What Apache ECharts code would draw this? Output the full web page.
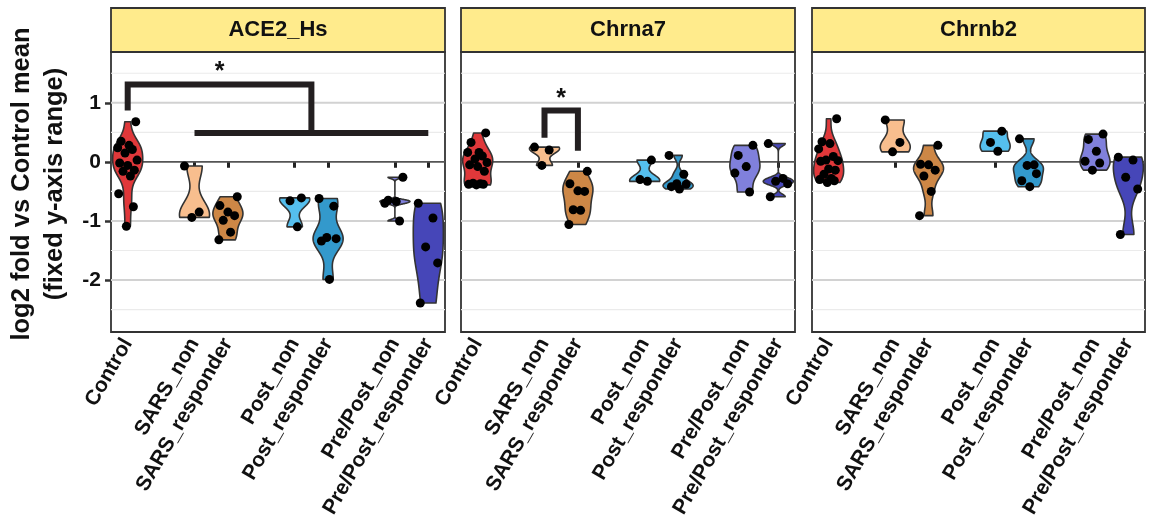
<!DOCTYPE html>
<html>
<head>
<meta charset="utf-8">
<script src="https://cdn.jsdelivr.net/npm/echarts@6/dist/echarts.min.js"></script>
<style>
  html, body { margin: 0; padding: 0; background: #fff; }
  #chart { width: 1150px; height: 522px; }
</style>
</head>
<body>
<div id="chart"></div>
<script>
// categories on the x axis (blank slots separate the groups)
const xCategories = ['Control', ' ', 'SARS_non', 'SARS_responder', '  ', 'Post_non', 'Post_responder', '   ', 'Pre/Post_non', 'Pre/Post_responder'];
const groupNames = ['Control', 'SARS_non', 'SARS_responder', 'Post_non', 'Post_responder', 'Pre/Post_non', 'Pre/Post_responder'];
const groupColors = ['#E0383A', '#F8BE8E', '#CD8746', '#55BFEE', '#3399CC', '#8080DC', '#4646B8'];
const genes = ['ACE2_Hs', 'Chrna7', 'Chrnb2'];
const yTicks = [-2, -1, 0, 1];

// log2 fold values, one list per group
const ace2Values = [
  [0.68, 0.35, 0.28, 0.24, 0.21, 0.15, 0.03, -0.02, -0.06, -0.14, -0.16, -0.24, -0.54, -0.76, -1.09],
  [-0.07, -0.85, -0.94],
  [-0.59, -0.74, -0.85, -0.91, -0.99, -1.19, -1.32],
  [-0.61, -0.66, -1.10],
  [-0.62, -0.75, -1.28, -1.30, -1.34, -1.99],
  [-0.26, -0.65, -0.67, -0.70, -1.00],
  [-0.70, -0.95, -1.44, -1.71, -2.39]
];
const chrna7Values = [
  [0.49, 0.33, 0.16, 0.16, 0.10, 0.05, -0.01, -0.05, -0.08, -0.16, -0.36, -0.37, -0.38, -0.38, -0.39],
  [0.25, 0.20, -0.06],
  [-0.16, -0.37, -0.49, -0.50, -0.81, -0.82, -1.06],
  [0.03, -0.30, -0.33],
  [0.11, -0.21, -0.37, -0.38, -0.42, -0.46],
  [0.28, 0.11, -0.08, -0.19, -0.51],
  [0.31, -0.28, -0.33, -0.37, -0.59]
];
const chrnb2Values = [
  [0.73, 0.34, 0.31, 0.22, 0.09, 0.03, 0.02, 0.01, -0.12, -0.14, -0.21, -0.28, -0.30, -0.32, -0.35],
  [0.71, 0.33, 0.17],
  [0.28, -0.04, -0.05, -0.14, -0.24, -0.50, -0.91],
  [0.52, 0.33, 0.18],
  [0.39, -0.05, -0.06, -0.20, -0.32, -0.42],
  [0.47, 0.38, 0.18, 0.01, -0.02, -0.14],
  [0.08, 0.03, -0.26, -0.46, -1.23]
];
const geneValues = [ace2Values, chrna7Values, chrnb2Values];

// significance brackets (y in data units)
const sigBrackets = [
  { gene: 0, left: 'Control', right: ['SARS_non', 'Pre/Post_responder'], top: 1.31, leftEnd: 0.87, rightEnd: 0.49, starY: 1.52 },
  { gene: 1, left: 'SARS_non', right: ['SARS_responder'], top: 0.87, leftEnd: 0.41, rightEnd: 0.19, starY: 1.06 }
];

const minorGrid = [-2.5, -1.5, -0.5, 0.5, 1.5];
const majorGrid = [-2, -1, 1];

// ---- layout / style ----
const panelLeft = [111, 461, 812];
const panelWidth = [334, 334, 333];
const panelTop = 52, panelHeight = 280;
const yMin = -2.88, yMax = 1.86;
const jitterPattern = [0.24, -0.2, 0.04, -0.3, 0.14, -0.08, 0.28, -0.24, 0.0, 0.2, -0.14, 0.08, -0.27, 0.17, -0.04];

function quantile7(sorted, p) {
  const h = (sorted.length - 1) * p;
  const lo = Math.floor(h);
  const hi = Math.ceil(h);
  return sorted[lo] + (h - lo) * (sorted[hi] - sorted[lo]);
}
function bwNrd0(x) {
  const n = x.length;
  const mean = x.reduce((a, b) => a + b, 0) / n;
  const sd = Math.sqrt(x.reduce((a, b) => a + (b - mean) * (b - mean), 0) / (n - 1));
  const s = x.slice().sort((a, b) => a - b);
  const iqr = quantile7(s, 0.75) - quantile7(s, 0.25);
  let lo = Math.min(sd, iqr / 1.34);
  if (!lo) lo = sd || Math.abs(s[0]) || 1;
  return 0.9 * lo * Math.pow(n, -0.2);
}
function violinProfile(x) {
  const bw = bwNrd0(x);
  const lo = Math.min.apply(null, x), hi = Math.max.apply(null, x);
  const out = [];
  const N = 256;
  for (let i = 0; i < N; i++) {
    const t = lo + (hi - lo) * i / (N - 1);
    let d = 0;
    x.forEach(v => { const z = (t - v) / bw; d += Math.exp(-0.5 * z * z); });
    out.push([t, d]);
  }
  const maxD = Math.max.apply(null, out.map(o => o[1]));
  return out.map(o => [o[0], o[1] / maxD]);
}

const catIndex = name => xCategories.indexOf(name);
const FONT = 'Liberation Sans, Arial, sans-serif';

const grids = [], xAxes = [], yAxes = [], series = [], graphics = [];

genes.forEach((gene, g) => {
  grids.push({
    left: panelLeft[g], top: panelTop, width: panelWidth[g], height: panelHeight,
    show: true, borderColor: '#333', borderWidth: 1.8, backgroundColor: '#fff'
  });
  xAxes.push({
    type: 'category', gridIndex: g, data: xCategories, boundaryGap: true,
    axisLine: { show: false },
    axisTick: {
      show: true, alignWithLabel: true, length: 6,
      interval: (idx, val) => val.trim() !== '',
      lineStyle: { color: '#222', width: 3 }
    },
    axisLabel: {
      interval: 0, rotate: 60, margin: 8,
      fontFamily: FONT, fontWeight: 'bold', fontSize: 21, color: '#111'
    },
    splitLine: { show: false }
  });
  yAxes.push({
    type: 'value', gridIndex: g, min: yMin, max: yMax,
    axisLine: { show: false },
    splitLine: { show: false },
    axisTick: { show: g === 0, customValues: yTicks, length: 6, lineStyle: { color: '#333', width: 2.5 } },
    axisLabel: {
      show: g === 0, customValues: yTicks, margin: 10,
      fontFamily: FONT, fontWeight: 'bold', fontSize: 21, color: '#111'
    }
  });

  // grid lines + zero line
  const gridData = minorGrid.map(v => [0, v, 0]).concat(majorGrid.map(v => [0, v, 1])).concat([[0, 0, 2]]);
  series.push({
    type: 'custom', xAxisIndex: g, yAxisIndex: g, z: 1, silent: true,
    data: gridData,
    renderItem: (params, api) => {
      const cs = params.coordSys;
      const y = api.coord([0, api.value(1)])[1];
      const kind = api.value(2);
      const style = kind === 0 ? { stroke: '#ebebeb', lineWidth: 1.2 }
        : kind === 1 ? { stroke: '#d2d2d2', lineWidth: 2 }
        : { stroke: '#555', lineWidth: 1.8 };
      return { type: 'line', shape: { x1: cs.x, y1: y, x2: cs.x + cs.width, y2: y }, style: style };
    }
  });

  // violins
  const vals = geneValues[g];
  series.push({
    type: 'custom', xAxisIndex: g, yAxisIndex: g, z: 2, silent: true,
    data: groupNames.map((name, gi) => [catIndex(name), gi]),
    renderItem: (params, api) => {
      const cs = params.coordSys;
      const band = cs.width / xCategories.length;
      const gi = api.value(1);
      const cx = api.coord([api.value(0), 0])[0];
      const prof = violinProfile(vals[gi]);
      const half = 0.45 * band;
      const right = prof.map(p => [cx + p[1] * half, api.coord([0, p[0]])[1]]);
      const left = prof.slice().reverse().map(p => [cx - p[1] * half, api.coord([0, p[0]])[1]]);
      return {
        type: 'polygon',
        shape: { points: right.concat(left) },
        style: { fill: groupColors[gi], stroke: '#333', lineWidth: 1.6, lineJoin: 'round' }
      };
    }
  });

  // jittered points
  series.push({
    type: 'custom', xAxisIndex: g, yAxisIndex: g, z: 3, silent: true,
    data: groupNames.map((name, gi) => [catIndex(name), gi]),
    renderItem: (params, api) => {
      const cs = params.coordSys;
      const band = cs.width / xCategories.length;
      const gi = api.value(1);
      const cx = api.coord([api.value(0), 0])[0];
      const children = vals[gi].map((v, i) => ({
        type: 'circle',
        shape: { cx: cx + jitterPattern[(i + gi * 3) % jitterPattern.length] * band, cy: api.coord([0, v])[1], r: 4.5 },
        style: { fill: '#000' }
      }));
      return { type: 'group', children: children };
    }
  });

  // significance brackets
  const myBrackets = sigBrackets.filter(b => b.gene === g);
  if (myBrackets.length) {
    series.push({
      type: 'custom', xAxisIndex: g, yAxisIndex: g, z: 4, silent: true,
      data: myBrackets.map((b, i) => [0, i]),
      renderItem: (params, api) => {
        const b = myBrackets[api.value(1)];
        const X = name => api.coord([catIndex(name), 0])[0];
        const Y = v => api.coord([0, v])[1];
        const xl = X(b.left);
        const xr1 = X(b.right[0]);
        const xr2 = X(b.right[b.right.length - 1]);
        const xr = (xr1 + xr2) / 2;
        const lineStyle = { stroke: '#231f20', lineWidth: 6, fill: null, lineCap: 'butt', lineJoin: 'miter' };
        const children = [{
          type: 'polyline',
          shape: { points: [[xl, Y(b.leftEnd)], [xl, Y(b.top)], [xr, Y(b.top)], [xr, Y(b.rightEnd)]] },
          style: lineStyle
        }, {
          type: 'text',
          style: {
            text: '*', x: (xl + xr) / 2, y: Y(b.starY), align: 'center', verticalAlign: 'middle',
            fontFamily: FONT, fontWeight: 'bold', fontSize: 25, fill: '#111'
          }
        }];
        if (b.right.length > 1) {
          children.push({
            type: 'line',
            shape: { x1: xr1, y1: Y(b.rightEnd), x2: xr2, y2: Y(b.rightEnd) },
            style: lineStyle
          });
        }
        return { type: 'group', children: children };
      }
    });
  }

  // facet strip
  graphics.push({
    type: 'rect', z: 10,
    shape: { x: panelLeft[g], y: 8, width: panelWidth[g], height: panelTop - 8 },
    style: { fill: '#FFEB8C', stroke: '#333', lineWidth: 1.8 }
  });
  graphics.push({
    type: 'text', z: 11,
    x: panelLeft[g] + panelWidth[g] / 2, y: 8 + (panelTop - 8) / 2,
    style: {
      text: gene, align: 'center', verticalAlign: 'middle',
      fontFamily: FONT, fontWeight: 'bold', fontSize: 22, fill: '#111'
    }
  });
});

// y axis title
graphics.push({
  type: 'text', z: 11, x: 38, y: 184, rotation: Math.PI / 2,
  style: {
    text: 'log2 fold vs Control mean\n(fixed y-axis range)', align: 'center', verticalAlign: 'middle',
    lineHeight: 33,
    fontFamily: FONT, fontWeight: 'bold', fontSize: 25.5, fill: '#111'
  }
});

const chart = echarts.init(document.getElementById('chart'), null, { renderer: 'canvas' });
chart.setOption({
  backgroundColor: '#fff',
  animation: false,
  grid: grids,
  xAxis: xAxes,
  yAxis: yAxes,
  series: series,
  graphic: graphics
});
</script>
</body>
</html>
